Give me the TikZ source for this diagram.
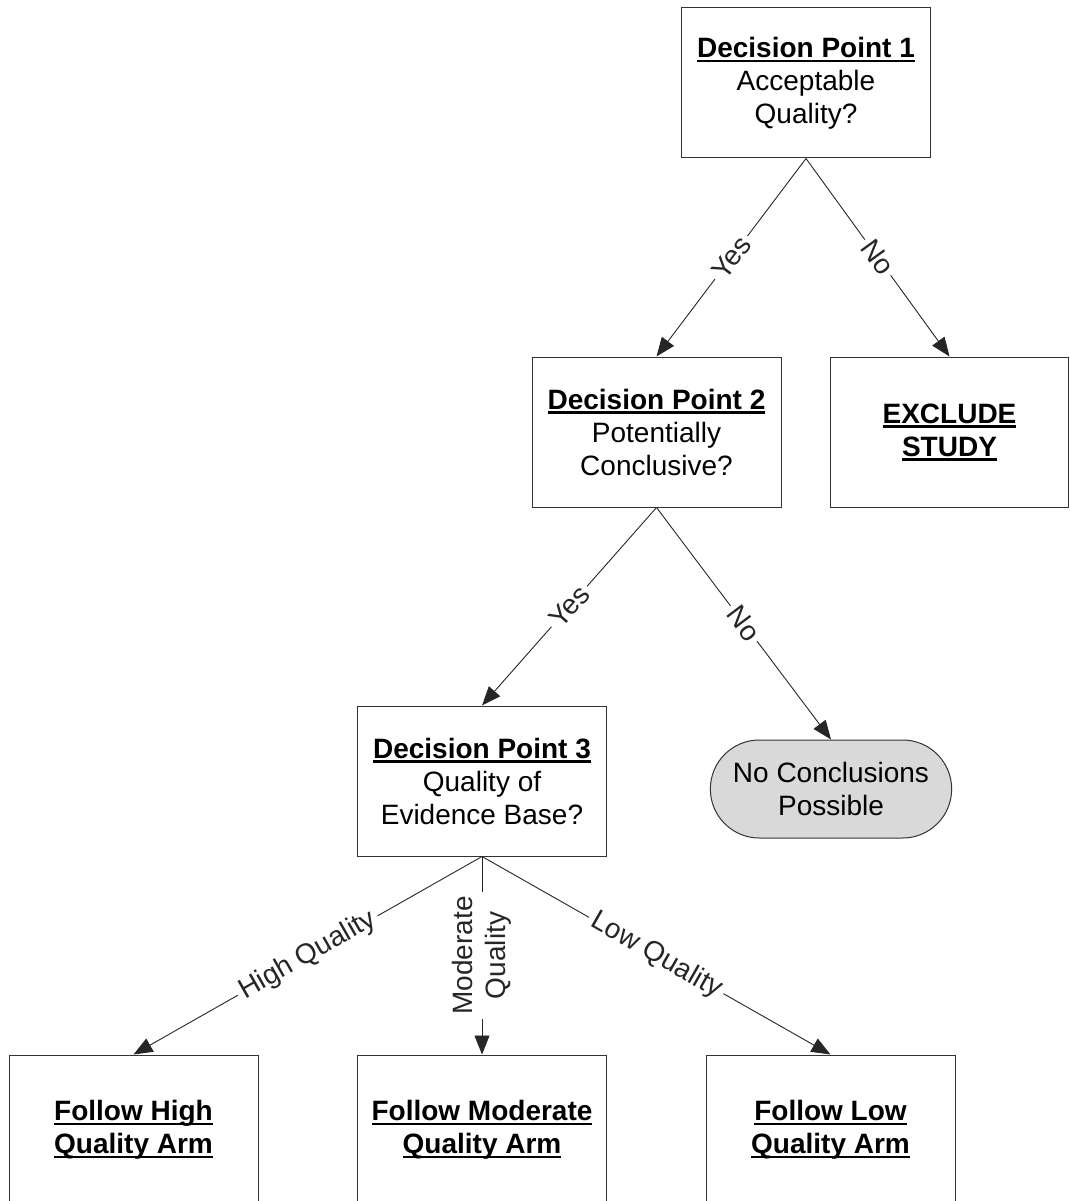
\documentclass[tikz,border=0pt]{standalone}
\usepackage{fontspec}
\setmainfont{Liberation Sans}
\usepackage{tikz}
\usetikzlibrary{arrows.meta,shapes.misc,trees}
\tikzset{
    basic/.style  = {draw=black!80, line width=1pt, font=\fontsize{28}{33}\selectfont, align=center},
    decision/.style = {basic, rectangle, minimum width=249pt, minimum height=150pt},
    outcome/.style = {basic, rounded rectangle, fill=gray!30, minimum width=248pt, minimum height=98pt},
    branch text/.style = {font=\fontsize{28}{33}\selectfont, fill=white, inner sep=4pt, align=center},
    branch/.style = {branch text, sloped}
}
\newsavebox{\headbox}
\newcommand{\heading}[1]{\textbf{\sbox{\headbox}{#1}\rlap{\rule[-4.5pt]{\wd\headbox}{2.2pt}}\usebox{\headbox}}}

\begin{document}
\begin{tikzpicture}[
	level distance=349pt,
	level 1/.style={sibling distance=299pt},
	level 2/.style={sibling distance=349pt},
	level 3/.style={sibling distance=348.5pt},
	parent anchor=south, child anchor=north,
	edge from parent/.style={->,draw,black!85,line width=0.9pt},>={Triangle[length=19pt,width=15pt]}]
	\clip (0,0) rectangle (1069pt,-1201pt);
	\node[decision] (dp1) at (806pt,-83pt) {\heading{Decision Point 1}\\Acceptable\\Quality?}
		child{node[decision] (dp2) {\heading{Decision Point 2}\\Potentially\\Conclusive?}
			child{node[decision] (dp3) {\heading{Decision Point 3}\\Quality of\\Evidence Base?}
				child{node[decision] (high) {\heading{Follow High}\\\heading{Quality Arm}}
					edge from parent node[branch] {High Quality}}
				child{node[decision] (moderate) {\heading{Follow Moderate}\\\heading{Quality Arm}}
					edge from parent node[branch text, rotate=90] {Moderate\\Quality}}
				child{node[decision] (low) {\heading{Follow Low}\\\heading{Quality Arm}}
					edge from parent node[branch] {Low Quality}}
				edge from parent node[branch] {Yes}}
			child{node[outcome, yshift=-8pt] (noconc) {No Conclusions\\Possible}
				edge from parent node[branch] {No}}
			edge from parent node[branch] {Yes}}
		child{node[decision, minimum width=238pt, xshift=-6pt] (exclude) {\heading{EXCLUDE}\\\heading{STUDY}}
			edge from parent node[branch] {No}};
\end{tikzpicture}
\end{document}
